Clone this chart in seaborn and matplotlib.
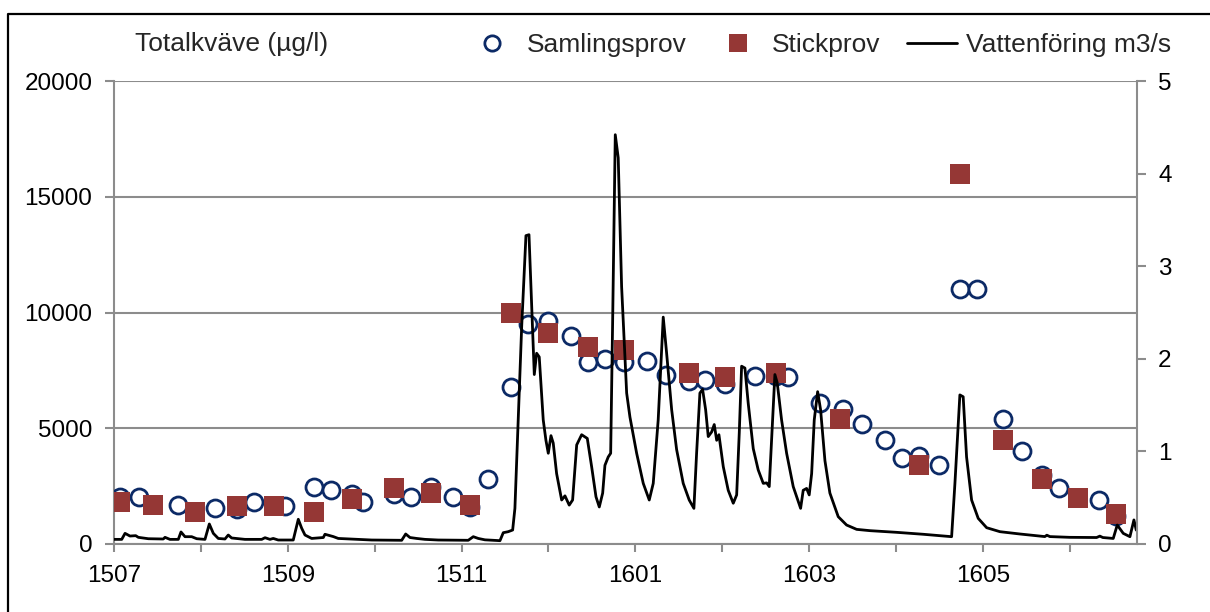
import calendar
import numpy as np
import pandas as pd
import matplotlib
matplotlib.use("Agg")
import matplotlib.pyplot as plt
from matplotlib.lines import Line2D
import seaborn as sns

# ---------------- data ----------------
month_codes = ["1507", "1508", "1509", "1510", "1511", "1512",
               "1601", "1602", "1603", "1604", "1605", "1606"]

saml_dates = ["2015-07-03", "2015-07-10", "2015-07-24", "2015-08-06", "2015-08-14",
              "2015-08-20", "2015-08-31", "2015-09-10", "2015-09-16", "2015-09-23",
              "2015-09-27", "2015-10-08", "2015-10-14", "2015-10-21", "2015-10-29",
              "2015-11-04", "2015-11-10", "2015-11-18", "2015-11-24", "2015-12-01",
              "2015-12-09", "2015-12-15", "2015-12-21", "2015-12-28", "2016-01-05",
              "2016-01-12", "2016-01-20", "2016-01-26", "2016-02-02", "2016-02-12",
              "2016-02-19", "2016-02-23", "2016-03-05", "2016-03-13", "2016-03-20",
              "2016-03-28", "2016-04-03", "2016-04-09", "2016-04-16", "2016-04-23",
              "2016-04-29", "2016-05-08", "2016-05-15", "2016-05-22", "2016-05-28",
              "2016-06-11", "2016-06-17"]
saml_vals = [2050, 2050, 1700, 1550, 1500, 1800, 1650, 2450, 2350, 2150, 1800,
             2150, 2050, 2450, 2050, 1600, 2800, 6800, 9500, 9650, 9000, 7850,
             8000, 7850, 7900, 7300, 7050, 7100, 6900, 7250, 7250, 7200, 6100,
             5850, 5200, 4500, 3700, 3800, 3400, 11000, 11000, 5400, 4000, 3000,
             2400, 1900, 1200]

stick_dates = ["2015-07-03", "2015-07-15", "2015-07-30", "2015-08-14", "2015-08-27",
               "2015-09-10", "2015-09-23", "2015-10-08", "2015-10-21", "2015-11-04",
               "2015-11-18", "2015-12-01", "2015-12-15", "2015-12-28", "2016-01-20",
               "2016-02-02", "2016-02-19", "2016-03-12", "2016-04-09", "2016-04-23",
               "2016-05-08", "2016-05-22", "2016-06-04", "2016-06-17"]
stick_vals = [1800, 1700, 1400, 1650, 1650, 1400, 1950, 2400, 2200, 1700, 10000,
              9100, 8500, 8400, 7400, 7200, 7400, 5400, 3400, 16000, 4500, 2800,
              2000, 1300]

# flow: time in months since 2015-07-01, discharge in m3/s
flow_t = [0.0, 0.089, 0.127, 0.184, 0.25, 0.28, 0.395, 0.567, 0.587, 0.644,
          0.74, 0.771, 0.817, 0.894, 0.952, 1.047, 1.097, 1.143, 1.2, 1.277,
          1.315, 1.354, 1.507, 1.7, 1.738, 1.795, 1.833, 1.89, 2.063, 2.121,
          2.16, 2.198, 2.275, 2.409, 2.428, 2.486, 2.524, 2.581, 2.966, 3.311,
          3.357, 3.406, 3.483, 3.579, 3.732, 4.077, 4.135, 4.192, 4.269, 4.442,
          4.48, 4.537, 4.588, 4.614, 4.652, 4.692, 4.741, 4.776, 4.807, 4.837,
          4.864, 4.894, 4.94, 4.971, 4.998, 5.029, 5.055, 5.094, 5.152, 5.19,
          5.239, 5.278, 5.325, 5.382, 5.447, 5.497, 5.547, 5.585, 5.624, 5.65,
          5.688, 5.716, 5.739, 5.769, 5.803, 5.842, 5.9, 5.938, 6.015, 6.091,
          6.16, 6.206, 6.263, 6.321, 6.36, 6.418, 6.475, 6.551, 6.62, 6.674,
          6.705, 6.743, 6.774, 6.809, 6.839, 6.878, 6.908, 6.936, 6.962, 7.012,
          7.069, 7.127, 7.166, 7.196, 7.223, 7.261, 7.299, 7.357, 7.414, 7.472,
          7.511, 7.541, 7.568, 7.606, 7.633, 7.683, 7.741, 7.817, 7.902, 7.932,
          7.971, 8.001, 8.029, 8.059, 8.098, 8.132, 8.182, 8.239, 8.335, 8.431,
          8.547, 8.7, 9.007, 9.313, 9.64, 9.678, 9.735, 9.773, 9.812, 9.87,
          9.946, 10.043, 10.196, 10.426, 10.713, 10.736, 10.771, 11.0, 11.308, 11.346,
          11.38, 11.5, 11.546, 11.615, 11.692, 11.738, 11.765]
flow_q = [0.05, 0.05, 0.115, 0.086, 0.09, 0.072, 0.057, 0.054, 0.072, 0.05,
          0.05, 0.13, 0.079, 0.079, 0.057, 0.05, 0.216, 0.115, 0.06, 0.054,
          0.097, 0.065, 0.05, 0.05, 0.068, 0.05, 0.06, 0.043, 0.043, 0.267,
          0.17, 0.097, 0.06, 0.07, 0.105, 0.09, 0.08, 0.06, 0.043, 0.04,
          0.108, 0.07, 0.06, 0.05, 0.043, 0.04, 0.079, 0.06, 0.045, 0.036,
          0.122, 0.133, 0.151, 0.385, 1.34, 2.35, 3.33, 3.34, 2.56, 1.83,
          2.06, 2.02, 1.34, 1.12, 0.98, 1.17, 1.09, 0.76, 0.475, 0.52,
          0.42, 0.475, 1.07, 1.18, 1.14, 0.835, 0.51, 0.40, 0.55, 0.85,
          0.94, 0.98, 2.42, 4.42, 4.17, 2.78, 1.63, 1.37, 0.98, 0.655,
          0.475, 0.655, 1.34, 2.45, 2.06, 1.45, 1.02, 0.655, 0.475, 0.385,
          0.98, 1.63, 1.67, 1.45, 1.16, 1.21, 1.29, 1.12, 1.18, 0.835,
          0.58, 0.44, 0.53, 1.2, 1.92, 1.90, 1.52, 1.03, 0.80, 0.655,
          0.66, 0.62, 1.12, 1.83, 1.74, 1.34, 0.98, 0.62, 0.385, 0.58,
          0.60, 0.53, 0.76, 1.34, 1.645, 1.45, 0.9, 0.55, 0.295, 0.205,
          0.158, 0.144, 0.126, 0.105, 0.079, 0.655, 1.61, 1.59, 0.94, 0.475,
          0.277, 0.176, 0.133, 0.108, 0.08, 0.095, 0.08, 0.072, 0.07, 0.085,
          0.07, 0.06, 0.205, 0.115, 0.079, 0.26, 0.15]

y_label = "Totalkväve (µg/l)"
legend_labels = ["Samlingsprov", "Stickprov", "Vattenföring m3/s"]


def month_pos(s):
    y, m, d = map(int, s.split("-"))
    return (y - 2015) * 12 + (m - 7) + (d - 1) / calendar.monthrange(y, m)[1]


saml_df = pd.DataFrame({"t": [month_pos(d) for d in saml_dates], "v": saml_vals})
stick_df = pd.DataFrame({"t": [month_pos(d) for d in stick_dates], "v": stick_vals})
flow_df = pd.DataFrame({"t": flow_t, "q": flow_q})

# ---------------- style ----------------
sns.set_theme(style="white")
plt.rcParams["font.family"] = ["Liberation Sans", "DejaVu Sans"]

NAVY = "#0c2a66"
RED = "#953735"
GRAY = "#8c8c8c"
FS_TICK = 17.5
FS_HEAD = 19

W, H = 1210, 612
fig = plt.figure(figsize=(W / 100, H / 100), dpi=100)
fig.patch.set_facecolor("white")
ax = fig.add_axes([114 / W, (H - 544) / H, (1136.7 - 114) / W, (544 - 81) / H])

# samples on primary axis
sns.scatterplot(data=saml_df, x="t", y="v", ax=ax, marker="o", s=150,
                facecolor="white", edgecolor=NAVY, linewidth=2.0, zorder=3)
sns.scatterplot(data=stick_df, x="t", y="v", ax=ax, marker="s", s=205,
                color=RED, edgecolor=RED, linewidth=0, zorder=4)

ax.set_xlim(0, 11.77)
ax.set_ylim(0, 20000)
ax.set_yticks([0, 5000, 10000, 15000, 20000])
ax.set_yticklabels(["0", "5000", "10000", "15000", "20000"])
ax.set_xticks(range(len(month_codes)))
ax.set_xticklabels([c if i % 2 == 0 else "" for i, c in enumerate(month_codes)])
ax.set_xlabel("")
ax.set_ylabel("")
ax.yaxis.grid(True, color=GRAY, lw=1.5)
ax.xaxis.grid(False)
ax.set_axisbelow(True)
for sp in ["top", "right"]:
    ax.spines[sp].set_visible(False)
for sp in ["left", "bottom"]:
    ax.spines[sp].set_color(GRAY)
    ax.spines[sp].set_linewidth(1.5)
ax.tick_params(axis="y", left=True, direction="out", length=6.5, width=1.5,
               color=GRAY, labelsize=FS_TICK, labelcolor="black", pad=9)
ax.tick_params(axis="x", bottom=True, direction="out", length=6, width=1.5,
               color=GRAY, labelsize=FS_TICK, labelcolor="black", pad=9)

# discharge on secondary axis
ax2 = ax.twinx()
sns.lineplot(data=flow_df, x="t", y="q", ax=ax2, color="black", lw=2.0,
             estimator=None, sort=False)
ax2.set_ylim(0, 5)
ax2.set_xlim(0, 11.77)
ax2.set_yticks([0, 1, 2, 3, 4, 5])
ax2.set_ylabel("")
ax2.set_xlabel("")
for sp in ["top", "left", "bottom"]:
    ax2.spines[sp].set_visible(False)
ax2.spines["right"].set_color(GRAY)
ax2.spines["right"].set_linewidth(1.5)
ax2.tick_params(axis="y", right=True, direction="out", length=6.5, width=1.5,
                color=GRAY, labelsize=FS_TICK, labelcolor="black", pad=9)
ax2.grid(False)

# header texts
fig.text(135 / W, 1 - 44 / H, y_label, fontsize=FS_HEAD, va="center", ha="left")

handles = [
    Line2D([], [], ls="none", marker="o", ms=11, mfc="white", mec=NAVY, mew=2),
    Line2D([], [], ls="none", marker="s", ms=13, mfc=RED, mec=RED, mew=0),
    Line2D([], [], color="black", lw=2.0),
]
fig.legend(handles, legend_labels, loc="center left",
           bbox_to_anchor=(467 / W, 1 - 45 / H), ncol=3, frameon=False,
           fontsize=FS_HEAD, handlelength=1.9, handletextpad=0.35,
           columnspacing=1.0, borderpad=0, borderaxespad=0)

# figure border (left and top visible)
fig.add_artist(Line2D([8 / W, 8 / W, 1.0], [0, 1 - 14 / H, 1 - 14 / H],
                      transform=fig.transFigure, color="black", lw=1.6))

fig.savefig("out.png", dpi=100)
